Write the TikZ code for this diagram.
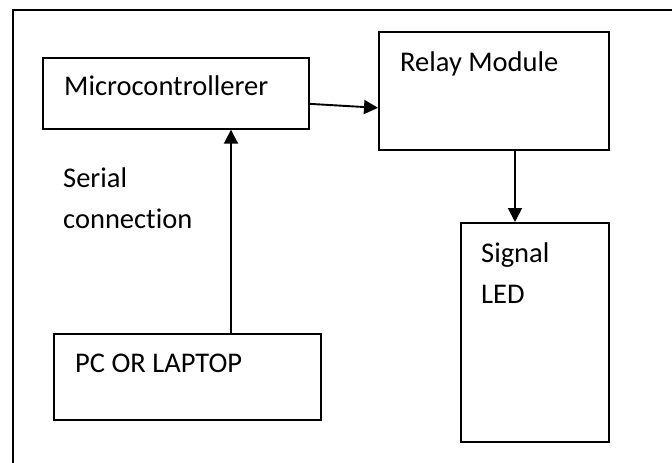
\documentclass[tikz,border=0pt]{standalone}
\usepackage{fontspec}
\setmainfont[Ligatures=NoCommon]{Carlito}
\usetikzlibrary{arrows.meta,calc}
\tikzset{
  blockbox/.style={draw=black, line width=1.7pt, inner sep=0pt, anchor=north west},
  lbl/.style={inner sep=0pt, anchor=base west, font=\fontsize{28.5pt}{34pt}\selectfont},
  conn/.style={draw=black, line width=1.9pt, -{Triangle[length=14pt,width=14pt]}}
}
\begin{document}
\begin{tikzpicture}[x=1pt,y=-1pt]
\clip (0,0) rectangle (672,463);
\fill[white] (0,0) rectangle (672,463);
% outer frame (right and bottom edges lie outside the picture)
\draw[line width=1.8pt] (13,10) rectangle (720,520);
% boxes
\node[blockbox, minimum width=266pt, minimum height=71pt] (micro) at (42,57) {};
\node[blockbox, minimum width=230pt, minimum height=118pt] (relay) at (378,31) {};
\node[blockbox, minimum width=148pt, minimum height=219pt] (signal) at (460,222) {};
\node[blockbox, minimum width=267pt, minimum height=86pt] (pc) at (53,333) {};
% labels
\node[lbl] (tmicro) at (64,95) {Microcontrollerer};
\node[lbl] (trelay) at (400,71) {Relay Module};
\node[lbl] (tsig1) at (481,262) {Signal};
\node[lbl] (tsig2) at (481,303) {LED};
\node[lbl] (tpc) at (75,372) {PC OR LAPTOP};
\node[lbl] (tser1) at (63,187) {Serial};
\node[lbl] (tser2) at (63,228) {connection};
% connectors
\coordinate (vx) at (231,0);
\coordinate (rx) at (515,0);
\draw[conn] ([yshift=-10.5pt]micro.east) -- ([yshift=-17pt]relay.west);
\draw[conn] (vx |- pc.north) -- (vx |- micro.south);
\draw[conn] (rx |- relay.south) -- (rx |- signal.north);
\end{tikzpicture}
\end{document}
